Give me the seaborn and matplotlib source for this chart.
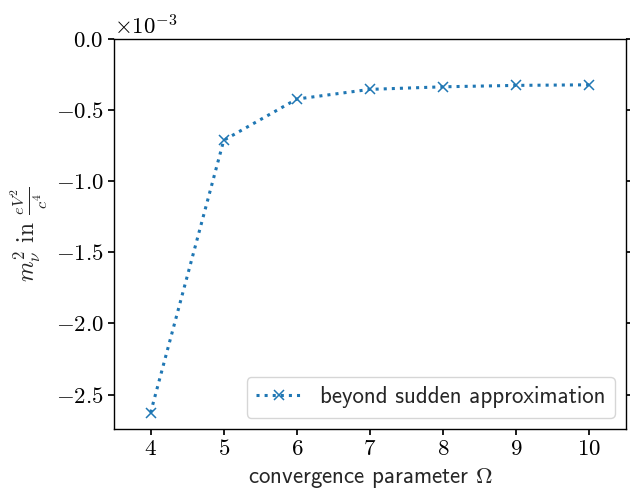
import matplotlib
matplotlib.use("Agg")
import matplotlib.pyplot as plt
import seaborn as sns
import pandas as pd

# convergence study data
omega = [4, 5, 6, 7, 8, 9, 10]
m_nu_sq = [-2.627e-3, -0.712e-3, -0.422e-3, -0.354e-3, -0.336e-3, -0.326e-3, -0.322e-3]
series_label = "beyond sudden approximation"

sns.set_theme(style="ticks")
plt.rcParams.update({
    "font.family": ["cmr10", "DejaVu Serif"],
    "mathtext.fontset": "cm",
    "axes.formatter.use_mathtext": True,
    "axes.unicode_minus": True,
    "axes.edgecolor": "black",
    "axes.linewidth": 1.0,
    "xtick.color": "black",
    "ytick.color": "black",
    "xtick.direction": "out",
    "ytick.direction": "out",
    "xtick.major.size": 4,
    "ytick.major.size": 4,
    "font.size": 16,
    "xtick.labelsize": 16.5,
    "ytick.labelsize": 16.5,
})

df = pd.DataFrame({"omega": omega, "m2": m_nu_sq})

fig = plt.figure(figsize=(6.3, 4.92), dpi=100)
ax = fig.add_axes([0.181, 0.128, 0.8127, 0.7927])

sns.lineplot(data=df, x="omega", y="m2", color="#1f77b4",
             marker="x", markersize=7, linestyle=":", linewidth=2.2,
             markeredgewidth=1.1, markeredgecolor="#1f77b4",
             label=series_label, ax=ax)

ax.set_xlim(3.5, 10.5)
ax.set_ylim(top=0.0)
ax.ticklabel_format(axis="y", style="sci", scilimits=(0, 0), useMathText=True)
ax.yaxis.get_offset_text().set_fontsize(16.5)
ax.tick_params(right=True, top=False)
for s in ["top", "right"]:
    ax.spines[s].set_visible(True)

ax.set_xlabel(r"convergence parameter $\Omega$", family="cmss10", fontsize=16.5, labelpad=5)
ax.set_ylabel(r"$m_\nu^2$ in $\frac{eV^2}{c^4}$", fontsize=17)

ax.legend(loc="lower right", prop={"family": "cmss10", "size": 16.5},
          fancybox=True, framealpha=0.8)

fig.savefig("out.png", dpi=100)
